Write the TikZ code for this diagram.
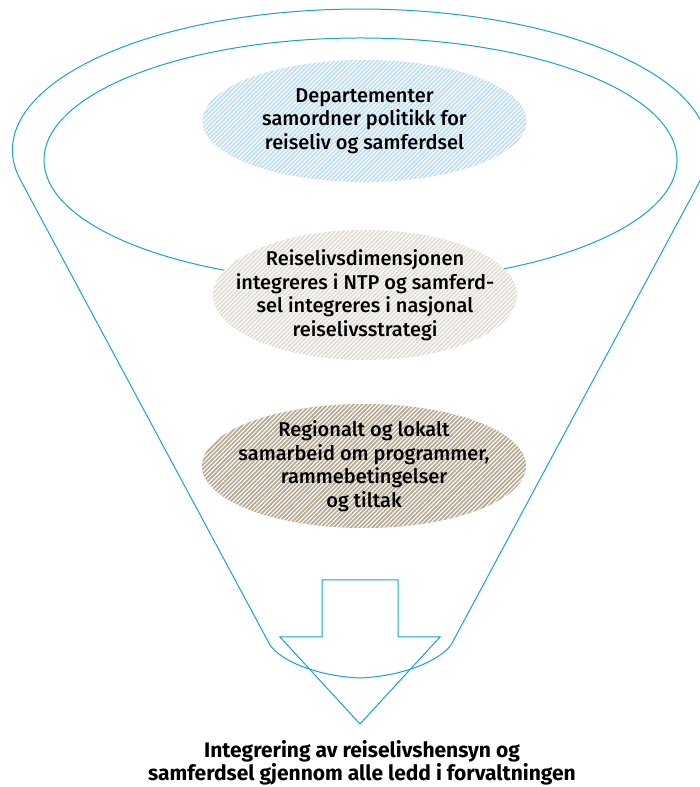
\documentclass[tikz,border=0pt]{standalone}
\usepackage{fontspec}
\setmainfont{Fira Sans}
\newfontfamily\medfont{Fira Sans Medium}
\usetikzlibrary{shapes.geometric}

\definecolor{funnelblue}{RGB}{20,163,219}
\definecolor{depblue}{RGB}{193,223,243}
\definecolor{ntpgrey}{RGB}{226,222,214}
\definecolor{regbrown}{RGB}{184,170,148}

\begin{document}
\begin{tikzpicture}[
    x=1pt, y=1pt,
    funnel/.style={draw=funnelblue, line width=1pt},
    stage/.style={ellipse, inner xsep=-25pt, inner ysep=-5pt, align=center,
        font=\medfont\fontsize{20}{23.5}\selectfont,
        path picture={\foreach \k in {-35,...,80}
            \draw[white, line width=1pt] ([xshift=\k*4.3pt]path picture bounding box.south west) -- ++(200pt,200pt);}}
]
    \useasboundingbox (0,0) rectangle (700,787);

    % Funnel
    \draw[funnel] (270,142) -- (20.4,607.1)
        arc[start angle=192.23, end angle=-12.23, x radius=348, y radius=141]
        -- (451,142) .. controls (440,127) and (405,111) .. (360,109)
        .. controls (315,111) and (280,127) .. (270,142) -- cycle;
    \draw[funnel] (360.5,627) ellipse[x radius=316.5, y radius=122];

    % Arrow
    \draw[funnel] (322,207) -- (398,207) -- (398,150) -- (440,150) -- (360,63)
        -- (280,150) -- (322,150) -- cycle;

    % Stages
    \node[stage, fill=depblue, minimum width=324, minimum height=122] (dep) at (364.5,666)
        {Departementer\\samordner politikk for\\reiseliv og samferdsel};
    \node[stage, fill=ntpgrey, minimum width=304, minimum height=130] (ntp) at (365,492)
        {Reiselivsdimensjonen\\integreres i NTP og samferd-\\sel integreres i nasjonal\\reiselivsstrategi};
    \node[stage, fill=regbrown, minimum width=324, minimum height=124] (reg) at (364,321)
        {Regionalt og lokalt\\samarbeid om programmer,\\rammebetingelser\\og tiltak};

    % Result
    \node[font=\bfseries\fontsize{21}{23}\selectfont, align=center] (goal) at (362,24)
        {Integrering av reiselivshensyn og\\samferdsel gjennom alle ledd i forvaltningen};
\end{tikzpicture}
\end{document}
